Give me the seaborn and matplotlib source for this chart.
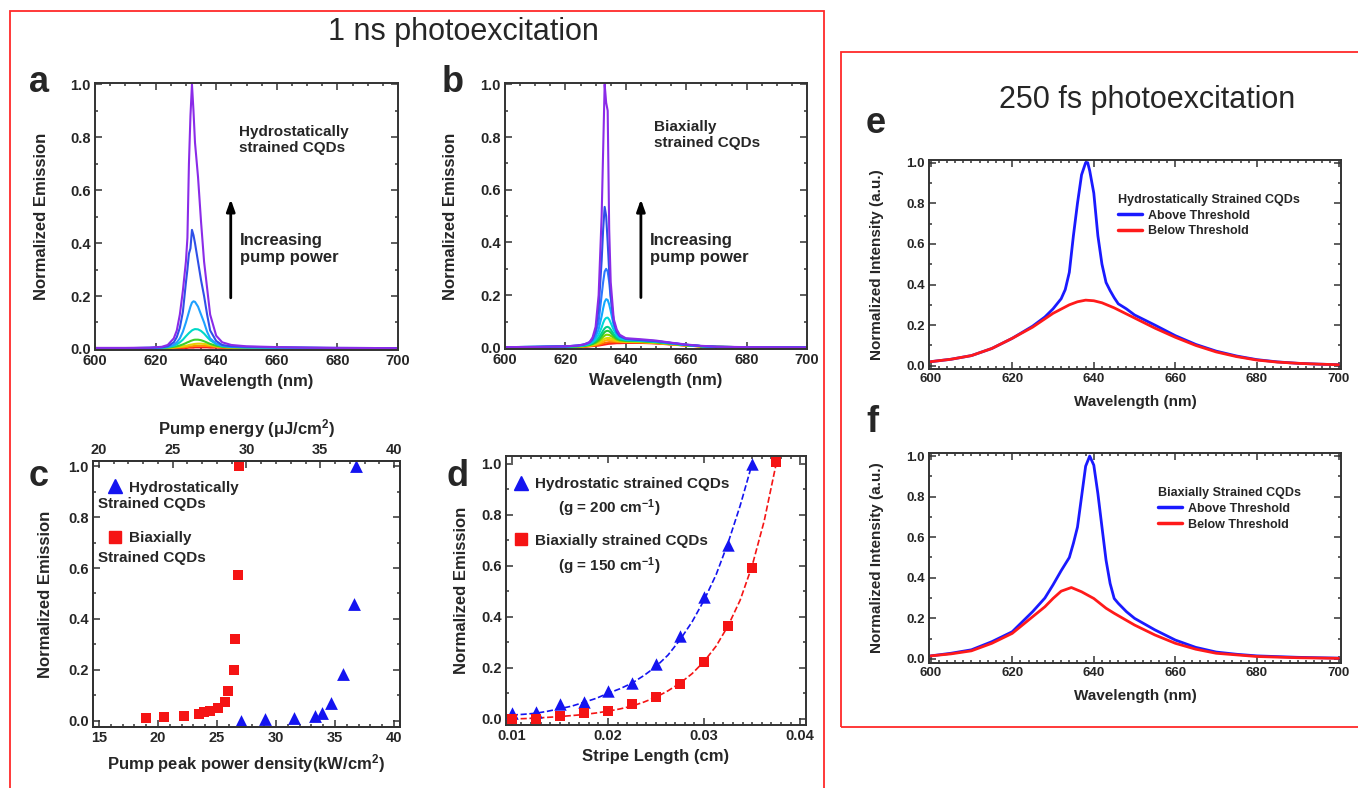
import numpy as np
import pandas as pd
import matplotlib
matplotlib.use('Agg')
import matplotlib.pyplot as plt
import seaborn as sns
from matplotlib.lines import Line2D
from matplotlib.patches import Rectangle
from matplotlib.ticker import MultipleLocator, FormatStrFormatter

# ---------------- DATA ----------------
# Panel a: 1 ns, hydrostatically strained (common wavelength grid)
a_wl = [600, 610, 618, 622, 624, 626, 627, 628, 629, 630, 630.5, 631, 631.5, 632, 632.5,
        633, 634, 635, 636, 637, 638, 640, 642, 645, 650, 660, 670, 680, 700]
a_c1 = [0.001, 0.001, 0.002, 0.002, 0.002, 0.003, 0.003, 0.003, 0.004, 0.004, 0.004, 0.005, 0.005, 0.005, 0.005,
        0.006, 0.006, 0.006, 0.006, 0.006, 0.005, 0.005, 0.004, 0.003, 0.002, 0.002, 0.002, 0.001, 0.001]
a_c2 = [0.001, 0.002, 0.002, 0.003, 0.003, 0.004, 0.005, 0.006, 0.007, 0.008, 0.008, 0.009, 0.010, 0.010, 0.011,
        0.011, 0.012, 0.012, 0.012, 0.011, 0.010, 0.008, 0.006, 0.004, 0.003, 0.003, 0.002, 0.002, 0.001]
a_c3 = [0.002, 0.002, 0.003, 0.003, 0.004, 0.006, 0.007, 0.008, 0.010, 0.012, 0.013, 0.015, 0.016, 0.017, 0.018,
        0.019, 0.020, 0.020, 0.019, 0.017, 0.015, 0.010, 0.007, 0.005, 0.004, 0.003, 0.003, 0.002, 0.002]
a_c4 = [0.002, 0.002, 0.003, 0.004, 0.005, 0.008, 0.010, 0.013, 0.017, 0.022, 0.025, 0.027, 0.030, 0.032, 0.034,
        0.035, 0.035, 0.033, 0.029, 0.024, 0.019, 0.012, 0.008, 0.006, 0.005, 0.004, 0.003, 0.003, 0.002]
a_c5 = [0.003, 0.003, 0.004, 0.005, 0.007, 0.012, 0.017, 0.025, 0.035, 0.048, 0.054, 0.060, 0.065, 0.070, 0.073,
        0.075, 0.074, 0.068, 0.058, 0.045, 0.033, 0.018, 0.011, 0.008, 0.006, 0.005, 0.004, 0.003, 0.003]
a_c6 = [0.003, 0.003, 0.004, 0.005, 0.008, 0.015, 0.025, 0.040, 0.065, 0.100, 0.120, 0.140, 0.160, 0.175, 0.180,
        0.178, 0.160, 0.130, 0.100, 0.065, 0.040, 0.020, 0.012, 0.008, 0.006, 0.005, 0.004, 0.003, 0.003]
a_c7 = [0.003, 0.003, 0.004, 0.006, 0.010, 0.025, 0.045, 0.080, 0.140, 0.250, 0.300, 0.360, 0.380, 0.450, 0.430,
        0.400, 0.330, 0.260, 0.200, 0.130, 0.070, 0.030, 0.015, 0.010, 0.008, 0.006, 0.005, 0.004, 0.003]
a_c8 = [0.004, 0.004, 0.005, 0.008, 0.015, 0.040, 0.070, 0.130, 0.220, 0.330, 0.420, 0.700, 0.880, 1.000, 0.900,
        0.780, 0.650, 0.480, 0.330, 0.230, 0.130, 0.050, 0.025, 0.015, 0.010, 0.007, 0.005, 0.004, 0.003]
a_colors = ['#ff1a1a', '#ff8c00', '#e6d200', '#3ccf2a', '#00d8c8', '#1ea0ff', '#2f4fe8', '#8a2be8']

# Panel b: 1 ns, biaxially strained
b_wl = [600, 610, 620, 624, 626, 627, 628, 629, 630, 631, 632, 632.5, 633, 633.5, 634, 634.5,
        635, 636, 637, 638, 640, 645, 650, 655, 660, 665, 670, 680, 700]
b_c1 = [0.002, 0.002, 0.003, 0.004, 0.004, 0.005, 0.006, 0.007, 0.008, 0.009, 0.011, 0.012, 0.013, 0.014, 0.015, 0.016,
        0.016, 0.017, 0.018, 0.018, 0.019, 0.019, 0.017, 0.013, 0.009, 0.006, 0.004, 0.002, 0.002]
b_c2 = [0.002, 0.003, 0.004, 0.004, 0.005, 0.006, 0.007, 0.008, 0.010, 0.012, 0.015, 0.017, 0.019, 0.020, 0.021, 0.022,
        0.022, 0.022, 0.022, 0.022, 0.022, 0.021, 0.018, 0.014, 0.009, 0.006, 0.004, 0.002, 0.002]
b_c3 = [0.002, 0.003, 0.004, 0.005, 0.006, 0.007, 0.008, 0.010, 0.012, 0.016, 0.021, 0.024, 0.027, 0.029, 0.030, 0.030,
        0.029, 0.027, 0.025, 0.024, 0.023, 0.022, 0.019, 0.014, 0.009, 0.006, 0.004, 0.002, 0.002]
b_c4 = [0.002, 0.003, 0.004, 0.005, 0.006, 0.008, 0.009, 0.012, 0.015, 0.020, 0.028, 0.032, 0.035, 0.037, 0.038, 0.038,
        0.036, 0.032, 0.028, 0.026, 0.024, 0.023, 0.020, 0.015, 0.010, 0.006, 0.004, 0.003, 0.002]
b_c5 = [0.002, 0.003, 0.004, 0.006, 0.007, 0.009, 0.011, 0.014, 0.019, 0.026, 0.036, 0.042, 0.047, 0.050, 0.050, 0.049,
        0.046, 0.039, 0.032, 0.028, 0.026, 0.025, 0.021, 0.016, 0.010, 0.006, 0.004, 0.003, 0.002]
b_c6 = [0.002, 0.003, 0.005, 0.006, 0.008, 0.010, 0.012, 0.016, 0.022, 0.031, 0.045, 0.053, 0.060, 0.064, 0.065, 0.063,
        0.058, 0.046, 0.036, 0.031, 0.028, 0.026, 0.022, 0.016, 0.011, 0.006, 0.004, 0.003, 0.002]
b_c7 = [0.003, 0.004, 0.005, 0.007, 0.009, 0.011, 0.014, 0.019, 0.027, 0.038, 0.056, 0.066, 0.074, 0.079, 0.080, 0.077,
        0.070, 0.053, 0.040, 0.033, 0.029, 0.027, 0.023, 0.017, 0.011, 0.007, 0.004, 0.003, 0.002]
b_c8 = [0.003, 0.004, 0.005, 0.007, 0.010, 0.012, 0.016, 0.022, 0.033, 0.050, 0.078, 0.095, 0.108, 0.114, 0.115, 0.108,
        0.095, 0.068, 0.047, 0.037, 0.031, 0.028, 0.024, 0.018, 0.011, 0.007, 0.004, 0.003, 0.002]
b_c9 = [0.003, 0.004, 0.006, 0.008, 0.011, 0.014, 0.018, 0.026, 0.042, 0.070, 0.120, 0.150, 0.175, 0.185, 0.182, 0.165,
        0.140, 0.085, 0.055, 0.042, 0.033, 0.029, 0.025, 0.018, 0.012, 0.007, 0.004, 0.003, 0.002]
b_c10 = [0.003, 0.004, 0.006, 0.009, 0.012, 0.015, 0.020, 0.030, 0.055, 0.100, 0.200, 0.250, 0.290, 0.300, 0.290, 0.250,
         0.190, 0.100, 0.060, 0.044, 0.034, 0.030, 0.026, 0.019, 0.012, 0.007, 0.004, 0.003, 0.002]
b_c11 = [0.003, 0.004, 0.006, 0.009, 0.013, 0.017, 0.022, 0.035, 0.065, 0.150, 0.330, 0.450, 0.535, 0.500, 0.400, 0.290,
         0.200, 0.100, 0.060, 0.045, 0.035, 0.030, 0.026, 0.019, 0.012, 0.007, 0.004, 0.003, 0.002]
b_c12 = [0.003, 0.004, 0.006, 0.009, 0.013, 0.017, 0.022, 0.040, 0.080, 0.200, 0.500, 0.750, 1.000, 0.930, 0.900, 0.450,
         0.250, 0.110, 0.070, 0.050, 0.037, 0.033, 0.028, 0.020, 0.013, 0.008, 0.005, 0.003, 0.002]
b_colors = ['#ff1a1a', '#ff6a00', '#ffb000', '#d8d800', '#7ad400', '#22c83c', '#00d08c', '#00d8d8',
            '#10a8ff', '#2a78ff', '#2f4fe8', '#8a2be8']

# Panel c: threshold curves
c_red_x = [19.0, 20.5, 22.2, 23.5, 23.9, 24.4, 25.1, 25.7, 25.9, 26.4, 26.55, 26.8, 26.9]
c_red_y = [0.013, 0.017, 0.021, 0.027, 0.033, 0.040, 0.050, 0.073, 0.117, 0.200, 0.320, 0.574, 1.000]
c_blue_x = [27.0, 29.05, 31.55, 33.3, 33.9, 34.65, 35.7, 36.6, 36.75]
c_blue_y = [0.000, 0.006, 0.012, 0.018, 0.030, 0.072, 0.184, 0.457, 1.000]

# Panel d: variable stripe length
d_blue_x = [0.01, 0.0125, 0.015, 0.0175, 0.02, 0.0225, 0.025, 0.0275, 0.03, 0.0325, 0.035]
d_blue_y = [0.022, 0.025, 0.057, 0.067, 0.110, 0.142, 0.214, 0.325, 0.477, 0.681, 1.000]
d_red_x = [0.01, 0.0125, 0.015, 0.0175, 0.02, 0.0225, 0.025, 0.0275, 0.03, 0.0325, 0.035, 0.0375]
d_red_y = [0.000, 0.000, 0.012, 0.022, 0.031, 0.058, 0.084, 0.137, 0.224, 0.362, 0.591, 1.007]
d_bfit_x = [0.01, 0.01125, 0.0125, 0.01375, 0.015, 0.01625, 0.0175, 0.01875, 0.02, 0.02125, 0.0225,
            0.02375, 0.025, 0.02625, 0.0275, 0.02875, 0.03, 0.03125, 0.0325, 0.03375, 0.035]
d_bfit_y = [0.015, 0.018, 0.022, 0.030, 0.040, 0.050, 0.065, 0.080, 0.100, 0.118, 0.140,
            0.170, 0.205, 0.250, 0.310, 0.380, 0.465, 0.565, 0.690, 0.835, 1.000]
d_rfit_x = [0.01, 0.01125, 0.0125, 0.01375, 0.015, 0.01625, 0.0175, 0.01875, 0.02, 0.02125, 0.0225,
            0.02375, 0.025, 0.02625, 0.0275, 0.02875, 0.03, 0.03125, 0.0325, 0.03375, 0.035, 0.03625, 0.0375]
d_rfit_y = [0.000, 0.001, 0.003, 0.006, 0.009, 0.013, 0.017, 0.023, 0.030, 0.039, 0.050,
            0.066, 0.085, 0.110, 0.140, 0.177, 0.225, 0.285, 0.365, 0.465, 0.600, 0.775, 1.000]

# Panel e: 250 fs hydrostatic
e_above_wl = [600, 605, 610, 615, 620, 625, 628, 630, 631, 632, 633, 634, 635, 636, 637, 638, 638.5, 639, 640,
              641, 642, 643, 644, 645, 646, 648, 650, 655, 660, 665, 670, 675, 680, 685, 690, 695, 700]
e_above = [0.020, 0.032, 0.050, 0.085, 0.135, 0.195, 0.240, 0.280, 0.305, 0.330, 0.375, 0.460, 0.640, 0.800, 0.940,
           1.000, 1.000, 0.960, 0.850, 0.640, 0.500, 0.410, 0.370, 0.335, 0.305, 0.280, 0.250, 0.200, 0.148,
           0.105, 0.072, 0.048, 0.030, 0.019, 0.012, 0.008, 0.005]
e_below_wl = [600, 605, 610, 615, 620, 625, 630, 634, 636, 638, 640, 642, 645, 650, 655, 660, 665, 670, 675,
              680, 685, 690, 695, 700]
e_below = [0.020, 0.032, 0.050, 0.085, 0.135, 0.190, 0.258, 0.300, 0.315, 0.323, 0.320, 0.310, 0.285, 0.235,
           0.185, 0.140, 0.100, 0.068, 0.045, 0.028, 0.018, 0.012, 0.008, 0.005]

# Panel f: 250 fs biaxial
f_above_wl = [600, 605, 610, 615, 620, 625, 628, 630, 632, 634, 635, 636, 637, 638, 639, 640, 641, 642, 643,
              644, 645, 646, 648, 650, 655, 660, 665, 670, 675, 680, 690, 700]
f_above = [0.015, 0.028, 0.045, 0.085, 0.134, 0.233, 0.300, 0.365, 0.435, 0.500, 0.570, 0.650, 0.800, 0.950,
           1.000, 0.955, 0.815, 0.650, 0.487, 0.372, 0.298, 0.274, 0.233, 0.200, 0.143, 0.093, 0.057, 0.034,
           0.023, 0.015, 0.008, 0.004]
f_below_wl = [600, 605, 610, 615, 620, 625, 628, 630, 632, 634.5, 637, 640, 643, 645, 650, 655, 660, 665, 670,
              680, 690, 700]
f_below = [0.015, 0.025, 0.040, 0.077, 0.126, 0.208, 0.257, 0.298, 0.334, 0.352, 0.331, 0.298, 0.250, 0.225,
           0.167, 0.118, 0.077, 0.048, 0.028, 0.012, 0.006, 0.003]

BLUE = '#1414f0'
RED = '#f51414'
LBLUE = '#1a1aff'
LRED = '#ff1a1a'

# ---------------- STYLE ----------------
sns.set_style('ticks')
plt.rcParams['font.family'] = ['Liberation Sans', 'DejaVu Sans']
plt.rcParams['font.weight'] = 'bold'
plt.rcParams['axes.labelweight'] = 'bold'
plt.rcParams['mathtext.fontset'] = 'custom'
plt.rcParams['mathtext.rm'] = 'Liberation Sans:bold'
plt.rcParams['mathtext.it'] = 'Liberation Sans:bold'
plt.rcParams['mathtext.bf'] = 'Liberation Sans:bold'
plt.rcParams['mathtext.default'] = 'rm'

W, H = 1358, 788
fig = plt.figure(figsize=(W / 100, H / 100), dpi=100)
fig.patch.set_facecolor('white')


def add_ax(l, r, t, b):
    return fig.add_axes([l / W, 1 - b / H, (r - l) / W, (b - t) / H])


def style(ax, xmaj, xmin, ymaj, ymin, fs, xfmt='%d', yfmt='%.1f'):
    ax.xaxis.set_major_locator(MultipleLocator(xmaj))
    ax.xaxis.set_minor_locator(MultipleLocator(xmin))
    ax.yaxis.set_major_locator(MultipleLocator(ymaj))
    ax.yaxis.set_minor_locator(MultipleLocator(ymin))
    ax.xaxis.set_major_formatter(FormatStrFormatter(xfmt))
    ax.yaxis.set_major_formatter(FormatStrFormatter(yfmt))
    ax.tick_params(which='both', direction='in', top=True, right=True, width=1.1,
                   color='#333333', labelsize=fs, pad=3)
    ax.tick_params(which='major', length=5)
    ax.tick_params(which='minor', length=2.5)
    for s in ax.spines.values():
        s.set_visible(True)
        s.set_linewidth(1.4)
        s.set_color('#333333')


def long_df(wl, curves):
    rows = []
    for i, c in enumerate(curves):
        assert len(c) == len(wl)
        rows.append(pd.DataFrame({'wl': wl, 'val': c, 'curve': f'c{i}'}))
    return pd.concat(rows, ignore_index=True)


TICK = 10.5
TICK_R = 9.5

# ---------------- PANEL a ----------------
axa = add_ax(95, 398, 83, 350)
dfa = long_df(a_wl, [a_c1, a_c2, a_c3, a_c4, a_c5, a_c6, a_c7, a_c8])
sns.lineplot(data=dfa, x='wl', y='val', hue='curve', palette=a_colors, lw=1.5,
             legend=False, estimator=None, ax=axa)
axa.set_xlim(600, 700)
axa.set_ylim(-0.004, 1.005)
style(axa, 20, 5, 0.2, 0.1, TICK)
axa.set_xlabel('Wavelength (nm)', fontsize=12, labelpad=4)
axa.set_ylabel('Normalized Emission', fontsize=12, labelpad=15)
axa.text(0.475, 0.843, 'Hydrostatically\nstrained CQDs', transform=axa.transAxes,
         fontsize=11, va='top', ha='left', linespacing=1.15)
axa.text(0.479, 0.438, 'Increasing\npump power', transform=axa.transAxes,
         fontsize=12, va='top', ha='left', linespacing=1.15)
axa.annotate('', xy=(0.448, 0.575), xytext=(0.448, 0.185), xycoords='axes fraction',
             arrowprops=dict(arrowstyle='-|>,head_width=0.25,head_length=0.7', color='black', lw=2))

# ---------------- PANEL b ----------------
axb = add_ax(505, 807, 83, 349)
dfb = long_df(b_wl, [b_c1, b_c2, b_c3, b_c4, b_c5, b_c6, b_c7, b_c8, b_c9, b_c10, b_c11, b_c12])
sns.lineplot(data=dfb, x='wl', y='val', hue='curve', palette=b_colors, lw=1.5,
             legend=False, estimator=None, ax=axb)
axb.set_xlim(600, 700)
axb.set_ylim(-0.004, 1.005)
style(axb, 20, 5, 0.2, 0.1, TICK)
axb.set_xlabel('Wavelength (nm)', fontsize=12, labelpad=4)
axb.set_ylabel('Normalized Emission', fontsize=12, labelpad=16)
axb.text(0.493, 0.861, 'Biaxially\nstrained CQDs', transform=axb.transAxes,
         fontsize=11, va='top', ha='left', linespacing=1.15)
axb.text(0.48, 0.436, 'Increasing\npump power', transform=axb.transAxes,
         fontsize=12, va='top', ha='left', linespacing=1.15)
axb.annotate('', xy=(0.45, 0.573), xytext=(0.45, 0.183), xycoords='axes fraction',
             arrowprops=dict(arrowstyle='-|>,head_width=0.25,head_length=0.7', color='black', lw=2))

# ---------------- PANEL c ----------------
axc = add_ax(93, 400, 461, 727)
sns.scatterplot(x=c_red_x, y=c_red_y, marker='s', color=RED, s=60, linewidth=0, ax=axc)
sns.scatterplot(x=c_blue_x, y=c_blue_y, marker='^', color=BLUE, s=85, linewidth=0, ax=axc)
axc.set_xlim(14.5, 40.5)
axc.set_ylim(-0.024, 1.02)
style(axc, 5, 1, 0.2, 0.1, TICK)
axc.tick_params(which='both', top=False)
axc.set_xlabel('Pump peak power density(kW/cm$^{2}$)', fontsize=12, labelpad=5)
axc.set_ylabel('Normalized Emission', fontsize=12, labelpad=11)
axc2 = axc.twiny()
axc2.set_xlim(20 + (14.5 - 15) * 0.8, 20 + (40.5 - 15) * 0.8)
axc2.xaxis.set_major_locator(MultipleLocator(5))
axc2.xaxis.set_minor_locator(MultipleLocator(1))
axc2.xaxis.set_major_formatter(FormatStrFormatter('%d'))
axc2.tick_params(which='both', direction='in', width=1.1, color='#333333', labelsize=TICK, pad=3)
axc2.tick_params(which='major', length=5)
axc2.tick_params(which='minor', length=2.5)
for s in axc2.spines.values():
    s.set_linewidth(1.4)
    s.set_color('#333333')
axc2.set_xlabel('Pump energy (μJ/cm$^{2}$)', fontsize=12, labelpad=6)

hc = [Line2D([], [], marker='^', color=BLUE, linestyle='none', markersize=10),
      Line2D([], [], marker='s', color=RED, linestyle='none', markersize=8)]
axc.legend(hc, ['Hydrostatically', 'Biaxially'], loc='center left',
           bbox_to_anchor=(107.5 / W, 1 - 513 / H), bbox_transform=fig.transFigure,
           frameon=False, fontsize=11, labelspacing=2.4, handlelength=1.0,
           handletextpad=0.4, borderpad=0, borderaxespad=0)
fig.text(98 / W, 1 - 504 / H, 'Strained CQDs', fontsize=11, va='center', ha='left')
fig.text(98 / W, 1 - 558 / H, 'Strained CQDs', fontsize=11, va='center', ha='left')

# ---------------- PANEL d ----------------
axd = add_ax(506, 806, 456, 725)
sns.lineplot(x=d_bfit_x, y=d_bfit_y, color=BLUE, lw=1.2, linestyle='--', ax=axd)
sns.lineplot(x=d_rfit_x, y=d_rfit_y, color=RED, lw=1.2, linestyle='--', ax=axd)
sns.scatterplot(x=d_blue_x, y=d_blue_y, marker='^', color=BLUE, s=80, linewidth=0, ax=axd, zorder=3)
sns.scatterplot(x=d_red_x, y=d_red_y, marker='s', color=RED, s=55, linewidth=0, ax=axd, zorder=3)
axd.set_xlim(0.0094, 0.0406)
axd.set_ylim(-0.024, 1.03)
style(axd, 0.01, 0.001, 0.2, 0.1, TICK, xfmt='%.2f')
axd.set_xlabel('Stripe Length (cm)', fontsize=12, labelpad=4)
axd.set_ylabel('Normalized Emission', fontsize=12, labelpad=9)
hd = [Line2D([], [], marker='^', color=BLUE, linestyle='none', markersize=10),
      Line2D([], [], marker='s', color=RED, linestyle='none', markersize=8)]
axd.legend(hd, ['Hydrostatic strained CQDs', 'Biaxially strained CQDs'], loc='center left',
           bbox_to_anchor=(513.4 / W, 1 - 512.5 / H), bbox_transform=fig.transFigure,
           frameon=False, fontsize=11, labelspacing=2.75, handlelength=1.0,
           handletextpad=0.4, borderpad=0, borderaxespad=0)
fig.text(558 / W, 1 - 508 / H, '(g = 200 cm$^{-1}$)', fontsize=11, va='center', ha='left')
fig.text(558 / W, 1 - 566 / H, '(g = 150 cm$^{-1}$)', fontsize=11, va='center', ha='left')

# ---------------- PANEL e ----------------
axe = add_ax(929, 1341, 160, 369)
dfe = pd.concat([pd.DataFrame({'wl': e_above_wl, 'val': e_above, 'kind': 'Above Threshold'}),
                 pd.DataFrame({'wl': e_below_wl, 'val': e_below, 'kind': 'Below Threshold'})])
sns.lineplot(data=dfe, x='wl', y='val', hue='kind', hue_order=['Above Threshold', 'Below Threshold'],
             palette=[LBLUE, LRED], lw=2.0, estimator=None, ax=axe)
axe.set_xlim(599.6, 700.6)
axe.set_ylim(-0.016, 1.013)
style(axe, 20, 2, 0.2, 0.1, TICK_R)
axe.set_xlabel('Wavelength (nm)', fontsize=11, labelpad=7)
axe.set_ylabel('Normalized Intensity (a.u.)', fontsize=11, labelpad=16)
axe.legend(title='Hydrostatically Strained CQDs', loc='upper left',
           bbox_to_anchor=(1118 / W, 1 - 194 / H), bbox_transform=fig.transFigure,
           frameon=False, fontsize=9, title_fontproperties={'weight': 'bold', 'size': 9},
           alignment='left', handlelength=1.9, handletextpad=0.5, labelspacing=0.3,
           borderpad=0, borderaxespad=0)
for l in axe.get_legend().get_lines():
    l.set_linewidth(2.5)

# ---------------- PANEL f ----------------
axf = add_ax(929, 1341, 453, 663)
dff = pd.concat([pd.DataFrame({'wl': f_above_wl, 'val': f_above, 'kind': 'Above Threshold'}),
                 pd.DataFrame({'wl': f_below_wl, 'val': f_below, 'kind': 'Below Threshold'})])
sns.lineplot(data=dff, x='wl', y='val', hue='kind', hue_order=['Above Threshold', 'Below Threshold'],
             palette=[LBLUE, LRED], lw=2.0, estimator=None, ax=axf)
axf.set_xlim(599.6, 700.6)
axf.set_ylim(-0.02, 1.015)
style(axf, 20, 2, 0.2, 0.1, TICK_R)
axf.set_xlabel('Wavelength (nm)', fontsize=11, labelpad=7)
axf.set_ylabel('Normalized Intensity (a.u.)', fontsize=11, labelpad=16)
axf.legend(title='Biaxially Strained CQDs', loc='upper left',
           bbox_to_anchor=(1158 / W, 1 - 487 / H), bbox_transform=fig.transFigure,
           frameon=False, fontsize=9, title_fontproperties={'weight': 'bold', 'size': 9},
           alignment='left', handlelength=1.9, handletextpad=0.5, labelspacing=0.3,
           borderpad=0, borderaxespad=0)
for l in axf.get_legend().get_lines():
    l.set_linewidth(2.5)

# ---------------- FRAMES, TITLES, LETTERS ----------------
fig.add_artist(Rectangle((10 / W, 1 - 800 / H), 814 / W, 789 / H, transform=fig.transFigure,
                         fill=False, ec='#ff2a2a', lw=1.3))
fig.add_artist(Rectangle((841 / W, 1 - 727 / H), 540 / W, 675 / H, transform=fig.transFigure,
                         fill=False, ec='#ff2a2a', lw=1.3))
fig.text(463 / W, 1 - 32 / H, '1 ns photoexcitation', fontsize=22, fontweight='normal',
         ha='center', va='center')
fig.text(1147 / W, 1 - 100 / H, '250 fs photoexcitation', fontsize=22, fontweight='normal',
         ha='center', va='center')
for letter, x, y in [('a', 39, 92), ('b', 453, 92), ('c', 39, 486), ('d', 458, 486),
                     ('e', 876, 133), ('f', 872, 432)]:
    fig.text(x / W, 1 - y / H, letter, fontsize=26, fontweight='bold', ha='center', va='baseline')

fig.savefig('out.png', dpi=100)
